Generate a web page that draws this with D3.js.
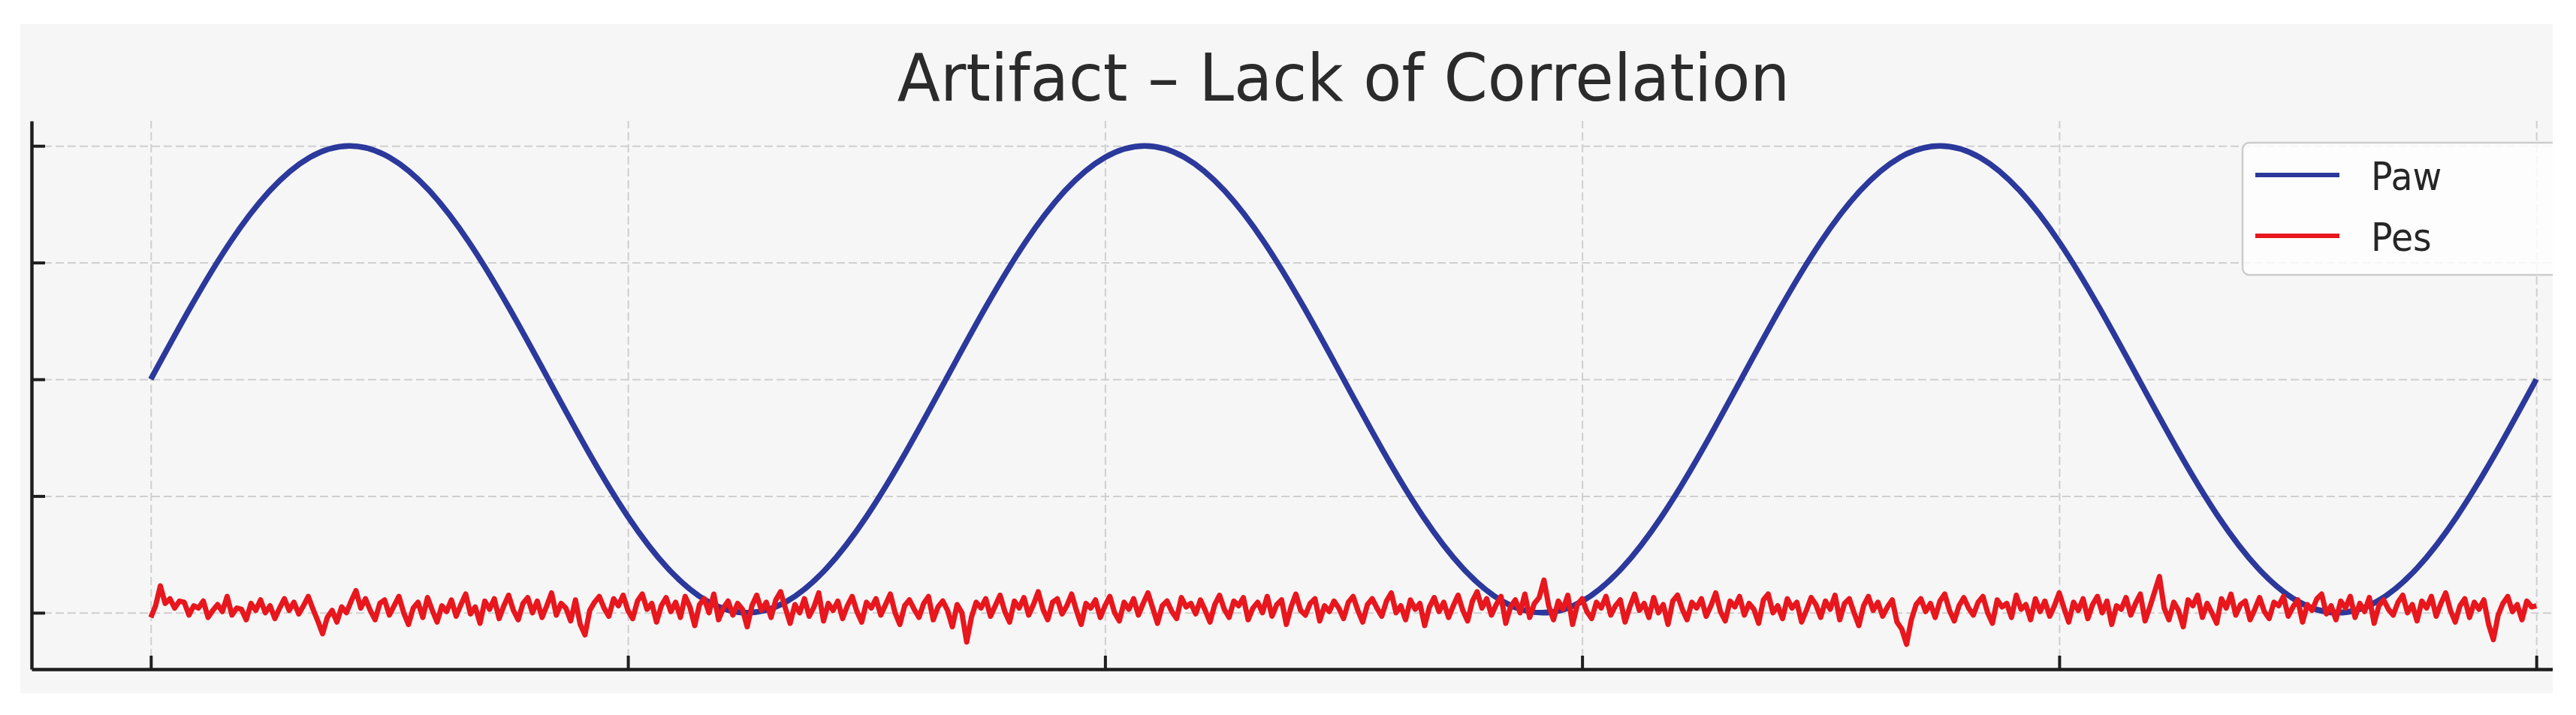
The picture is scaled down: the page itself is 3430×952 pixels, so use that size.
<!DOCTYPE html>
<html>
<head>
<meta charset="utf-8">
<script src="https://cdn.jsdelivr.net/npm/d3@7"></script>
<style>
  html, body { margin: 0; padding: 0; background: #ffffff; }
  svg { display: block; font-family: "DejaVu Sans", sans-serif; }
</style>
</head>
<body>
<div id="chart"></div>
<script>
// Data
const chartTitle = "Artifact – Lack of Correlation"
const seriesNames = ["Paw", "Pes"]
const xTicks = [0, 2, 4, 6, 8, 10]
const yTicks = [0, 5, 10, 15, 20]
const timeSpan = [0, 10]

// Paw, sampled every 1/6 s (20 samples per breath)
const pawValues = [
    10, 13.09, 15.88, 18.09, 19.51, 20, 19.51, 18.09, 15.88, 13.09,
    10, 6.91, 4.12, 1.91, 0.49, 0, 0.49, 1.91, 4.12, 6.91,
    10, 13.09, 15.88, 18.09, 19.51, 20, 19.51, 18.09, 15.88, 13.09,
    10, 6.91, 4.12, 1.91, 0.49, 0, 0.49, 1.91, 4.12, 6.91,
    10, 13.09, 15.88, 18.09, 19.51, 20, 19.51, 18.09, 15.88, 13.09,
    10, 6.91, 4.12, 1.91, 0.49, 0, 0.49, 1.91, 4.12, 6.91,
    10
]

// Pes, flat and noisy, sampled every 0.02 s
const pesValues = [
    -0.2, 0.3, 1.15, 0.4, 0.6, 0.2, 0.5, 0.45, -0.1, 0.3, 0.2, 0.5, -0.2, 0.1, 0.35, 0.05, 0.7, -0.1, 0.2, 0.15, -0.3, 0.4, 0.1, 0.55, 0.0,
    0.3, -0.25, 0.2, 0.6, 0.1, 0.45, -0.05, 0.3, 0.7, 0.15, -0.35, -0.9, -0.2, 0.1, -0.4, 0.25, 0.0, 0.5, 0.95, 0.2, 0.6, 0.1, -0.3, 0.4, 0.55,
    -0.1, 0.3, 0.7, 0.0, -0.5, 0.2, 0.45, -0.2, 0.65, 0.1, -0.4, 0.3, 0.05, 0.55, -0.15, 0.35, 0.8, -0.05, 0.25, -0.45, 0.5, 0.15, 0.6, -0.25, 0.3,
    0.75, 0.1, -0.3, 0.4, 0.65, 0.0, 0.5, -0.2, 0.3, 0.85, -0.1, 0.4, 0.2, -0.35, 0.55, -0.5, -0.95, 0.1, 0.45, 0.7, 0.2, -0.15, 0.6, 0.3, 0.75,
    0.1, -0.25, 0.5, 0.8, 0.15, 0.4, -0.4, 0.3, 0.65, 0.05, 0.45, -0.2, 0.7, 0.25, -0.55, 0.35, 0.6, 0.0, 0.8, -0.3, 0.2, 0.5, -0.1, 0.4, 0.15,
    -0.6, 0.3, 0.75, 0.1, 0.45, -0.2, 0.55, 0.9, 0.2, -0.45, 0.35, 0.0, 0.6, -0.15, 0.25, 0.85, -0.35, 0.4, 0.1, 0.5, -0.25, 0.3, 0.7, 0.05, -0.4,
    0.45, 0.2, 0.6, -0.1, 0.35, 0.8, 0.0, -0.5, 0.3, 0.55, 0.15, -0.2, 0.4, 0.7, -0.3, 0.25, 0.5, 0.1, -0.6, 0.35, 0.0, -1.25, -0.2, 0.45, 0.2,
    0.6, -0.15, 0.3, 0.75, 0.05, -0.4, 0.5, 0.2, 0.65, -0.1, 0.35, 0.9, 0.15, -0.3, 0.45, 0.6, -0.05, 0.3, 0.8, 0.1, -0.5, 0.4, 0.2, 0.55, -0.2,
    0.3, 0.7, 0.0, -0.35, 0.45, 0.15, 0.6, -0.1, 0.4, 0.85, 0.2, -0.45, 0.3, 0.5, 0.05, -0.25, 0.65, 0.25, 0.4, -0.05, 0.55, 0.1, -0.4, 0.35, 0.75,
    0.15, -0.2, 0.5, 0.3, 0.65, -0.3, 0.2, 0.45, 0.0, 0.7, -0.15, 0.35, 0.55, -0.5, 0.25, 0.8, 0.1, -0.1, 0.4, 0.6, -0.35, 0.3, 0.05, 0.5, 0.2,
    -0.25, 0.45, 0.7, 0.1, -0.4, 0.35, 0.6, 0.2, -0.15, 0.5, 0.85, 0.0, 0.3, -0.3, 0.55, 0.15, 0.4, -0.55, 0.25, 0.65, 0.05, 0.45, -0.2, 0.3, 0.75,
    0.1, -0.35, 0.5, 0.9, 0.2, 0.6, -0.1, 0.35, 0.7, -0.45, 0.25, 0.55, 0.0, 0.8, -0.2, 0.4, 0.65, 1.4, 0.3, -0.3, 0.5, 0.15, 0.75, -0.5, 0.35,
    0.6, 0.05, -0.25, 0.45, 0.2, 0.7, -0.1, 0.3, 0.55, -0.4, 0.25, 0.8, 0.1, 0.4, -0.2, 0.65, 0.0, 0.35, -0.5, 0.5, 0.75, 0.15, -0.3, 0.45, 0.2,
    0.6, -0.15, 0.3, 0.85, 0.05, -0.35, 0.5, 0.25, 0.7, -0.1, 0.4, 0.15, -0.45, 0.55, 0.8, 0.0, 0.3, -0.25, 0.6, 0.2, 0.45, -0.4, 0.1, 0.65, 0.35,
    -0.2, 0.5, 0.15, 0.75, -0.3, 0.4, 0.6, 0.0, -0.55, 0.3, 0.7, 0.1, 0.45, -0.15, 0.25, 0.55, -0.4, -0.7, -1.35, -0.3, 0.35, 0.6, 0.05, 0.4, -0.2,
    0.5, 0.8, 0.1, -0.35, 0.3, 0.65, 0.2, -0.1, 0.45, 0.7, 0.0, -0.45, 0.55, 0.25, 0.4, -0.2, 0.75, 0.15, 0.35, -0.3, 0.6, 0.05, 0.5, -0.15, 0.3,
    0.85, 0.2, -0.4, 0.45, 0.1, 0.6, -0.25, 0.35, 0.7, 0.0, 0.5, -0.5, 0.3, 0.15, 0.65, -0.1, 0.4, 0.8, -0.35, 0.25, 0.9, 1.55, 0.2, -0.3, 0.45,
    0.1, -0.6, 0.55, 0.3, 0.75, -0.2, 0.4, 0.0, -0.45, 0.6, 0.2, 0.8, -0.1, 0.35, 0.5, -0.3, 0.15, 0.65, 0.05, -0.25, 0.45, 0.3, 0.7, -0.15, 0.25,
    0.55, -0.4, 0.35, 0.1, 0.6, 0.8, -0.05, 0.3, -0.3, 0.5, 0.2, 0.7, -0.2, 0.4, 0.05, 0.65, -0.45, 0.3, 0.55, 0.15, -0.1, 0.45, 0.75, 0.0, 0.35,
    -0.35, 0.5, 0.2, 0.7, -0.15, 0.4, 0.85, 0.1, -0.4, 0.3, 0.6, -0.2, 0.45, 0.15, 0.55, -0.5, -1.15, -0.1, 0.4, 0.7, 0.05, 0.35, -0.3, 0.5, 0.25,
    0.3
]

const colors = {Paw: "#2b389c", Pes: "#e8161d"}

const dimensions = {
    width: 3430,
    height: 952,
    cropRight: 3399,
    // axes box (the original figure ran past the right crop)
    axes: {left: 42, right: 3536, top: 161, bottom: 891},
}

const svg = d3.select("#chart")
    .append("svg")
    .attr("width", dimensions.width)
    .attr("height", dimensions.height)

svg.append("defs")
    .append("clipPath")
    .attr("id", "crop")
    .append("rect")
    .attr("x", 0).attr("y", 0)
    .attr("width", dimensions.cropRight)
    .attr("height", dimensions.height)

const fig = svg.append("g").attr("clip-path", "url(#crop)")

// figure background
fig.append("rect")
    .attr("x", 27).attr("y", 32)
    .attr("width", dimensions.cropRight - 27)
    .attr("height", 891)
    .attr("fill", "#f6f6f6")

// Series
const pawSeries = pawValues.map((v, i) => ({t: i * (timeSpan[1] - timeSpan[0]) / (pawValues.length - 1), v: v}))
const pesSeries = pesValues.map((v, i) => ({t: i * (timeSpan[1] - timeSpan[0]) / (pesValues.length - 1), v: v}))

// Scales, padded 5% like matplotlib
const pad = (ext) => {
    const m = (ext[1] - ext[0]) * 0.05
    return [ext[0] - m, ext[1] + m]
}
const x = d3.scaleLinear()
    .domain(pad(timeSpan))
    .range([dimensions.axes.left, dimensions.axes.right])
const y = d3.scaleLinear()
    .domain(pad(d3.extent(pawValues.concat(pesValues))))
    .range([dimensions.axes.bottom, dimensions.axes.top])

const plotW = dimensions.axes.right - dimensions.axes.left
const plotH = dimensions.axes.bottom - dimensions.axes.top

// Grid
const gridX = fig.append("g")
    .attr("transform", `translate(0,${dimensions.axes.bottom})`)
    .call(d3.axisBottom(x).tickValues(xTicks).tickSize(-plotH).tickFormat(""))
const gridY = fig.append("g")
    .attr("transform", `translate(${dimensions.axes.left},0)`)
    .call(d3.axisLeft(y).tickValues(yTicks).tickSize(-plotW).tickFormat(""))
;[gridX, gridY].forEach(g => {
    g.select(".domain").remove()
    g.selectAll("line")
        .attr("stroke", "#cfcfcf")
        .attr("stroke-width", 2)
        .attr("stroke-dasharray", "11,5")
})

// Lines
const line = d3.line()
    .x(d => x(d.t))
    .y(d => y(d.v))

fig.append("path")
    .datum(pawSeries)
    .attr("fill", "none")
    .attr("stroke", colors.Paw)
    .attr("stroke-width", 7.5)
    .attr("d", line.curve(d3.curveNatural))

fig.append("path")
    .datum(pesSeries)
    .attr("fill", "none")
    .attr("stroke", colors.Pes)
    .attr("stroke-width", 7)
    .attr("stroke-linejoin", "round")
    .attr("d", line.curve(d3.curveLinear))

// Axes (inward ticks, no labels)
const axisX = fig.append("g")
    .attr("transform", `translate(0,${dimensions.axes.bottom})`)
    .call(d3.axisBottom(x).tickValues(xTicks).tickSize(-18).tickSizeOuter(0).tickFormat(""))
const axisY = fig.append("g")
    .attr("transform", `translate(${dimensions.axes.left},0)`)
    .call(d3.axisLeft(y).tickValues(yTicks).tickSize(-18).tickSizeOuter(0).tickFormat(""))
;[axisX, axisY].forEach(g => {
    g.select(".domain").attr("stroke", "#1e1e1e").attr("stroke-width", 4.5)
    g.selectAll(".tick line").attr("stroke", "#1e1e1e").attr("stroke-width", 4)
})

// Title (the picture is slightly squeezed horizontally)
const squeeze = 0.95
fig.append("text")
    .attr("transform", `translate(${(dimensions.axes.left + dimensions.axes.right) / 2},134) scale(${squeeze},1)`)
    .attr("text-anchor", "middle")
    .attr("font-size", 88)
    .attr("fill", "#2b2b2b")
    .text(chartTitle)

// Legend
const legend = fig.append("g")
    .attr("transform", `translate(${dimensions.axes.right - 550},190)`)

legend.append("rect")
    .attr("width", 536)
    .attr("height", 176)
    .attr("rx", 9)
    .attr("fill", "#ffffff")
    .attr("fill-opacity", 0.8)
    .attr("stroke", "#cccccc")
    .attr("stroke-width", 2.5)

const items = legend.selectAll("g.item")
    .data(seriesNames)
    .join("g")
    .classed("item", true)
    .attr("transform", (d, i) => `translate(0,${43 + i * 81})`)

items.append("line")
    .attr("x1", 17).attr("x2", 129)
    .attr("stroke", d => colors[d])
    .attr("stroke-width", 6)

items.append("text")
    .attr("transform", `translate(171,20) scale(0.93,1)`)
    .attr("font-size", 51)
    .attr("fill", "#262626")
    .text(d => d)
</script>
</body>
</html>
